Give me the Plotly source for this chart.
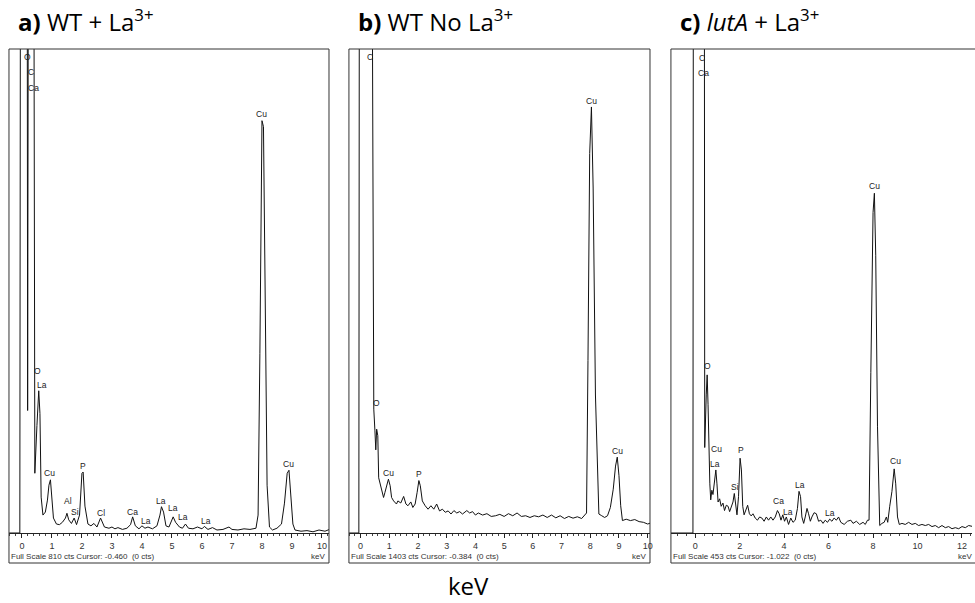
import plotly.graph_objs as go

# 能谱数据 (keV, cts) 从图上读取
a_kev = [-0.43, -0.1, -0.07, -0.04, 0.1, 0.16, 0.19, 0.22, 0.3, 0.38, 0.43, 0.5, 0.56, 0.6, 0.64, 0.7,
         0.78, 0.85, 0.9, 0.95, 1.0, 1.05, 1.15, 1.25, 1.35, 1.45, 1.5, 1.56, 1.65, 1.74, 1.82, 1.92,
         2.0, 2.04, 2.1, 2.2, 2.3, 2.4, 2.5, 2.62, 2.75, 2.9, 3.0, 3.1, 3.2, 3.35, 3.5, 3.62, 3.69,
         3.78, 3.9, 4.0, 4.1, 4.2, 4.35, 4.5, 4.6, 4.65, 4.72, 4.8, 4.9, 5.0, 5.04, 5.12, 5.25, 5.35,
         5.45, 5.55, 5.7, 5.85, 6.0, 6.08, 6.2, 6.35, 6.5, 6.7, 6.9, 7.0, 7.2, 7.4, 7.6, 7.8, 7.87,
         7.93, 8.0, 8.05, 8.1, 8.17, 8.25, 8.35, 8.5, 8.65, 8.75, 8.84, 8.9, 8.96, 9.03, 9.1, 9.3,
         9.5, 9.7, 9.9, 10.1, 10.25]
a_cts = [0, 0, 0, 1500, 3000, 2000, 205, 1500, 4000, 1500, 100, 180, 238, 200, 60, 30,
         35, 55, 80, 89, 60, 25, 15, 14, 18, 25, 33, 22, 16, 25, 14, 30,
         100, 102, 45, 15, 12, 16, 10, 25, 10, 8, 10, 7, 9, 6, 8, 14, 27,
         12, 7, 12, 8, 10, 7, 12, 30, 44, 35, 12, 10, 22, 27, 18, 10, 8,
         15, 8, 7, 10, 7, 11, 6, 9, 5, 6, 10, 6, 5, 7, 6, 8, 30,
         300, 690, 680, 400, 80, 10, 5, 8, 15, 50, 100, 105, 60, 15, 5, 3,
         4, 2, 5, 3, 6]

b_kev = [-0.41, -0.1, -0.06, -0.03, 0.2, 0.39, 0.46, 0.5, 0.53, 0.56, 0.6, 0.63, 0.69, 0.75, 0.8,
         0.85, 0.9, 0.97, 1.03, 1.08, 1.15, 1.25, 1.3, 1.4, 1.5, 1.58, 1.65, 1.75, 1.82, 1.9, 1.97,
         2.03, 2.08, 2.15, 2.25, 2.35, 2.45, 2.55, 2.65, 2.75, 2.85, 2.95, 3.05, 3.15, 3.25, 3.35,
         3.45, 3.55, 3.7, 3.8, 3.9, 4.0, 4.1, 4.25, 4.4, 4.55, 4.7, 4.85, 5.0, 5.15, 5.3, 5.45, 5.6,
         5.75, 5.9, 6.05, 6.2, 6.35, 6.5, 6.65, 6.8, 6.95, 7.1, 7.25, 7.4, 7.55, 7.7, 7.8, 7.87,
         7.92, 7.98, 8.04, 8.1, 8.18, 8.3, 8.4, 8.5, 8.6, 8.7, 8.8, 8.88, 8.94, 9.0, 9.06, 9.12,
         9.25, 9.4, 9.55, 9.7, 9.85, 10.0, 10.1]
b_cts = [0, 0, 0, 3000, 5000, 2000, 359, 296, 241, 301, 282, 160, 137, 113, 103,
         118, 137, 156, 137, 103, 93, 84, 93, 87, 106, 84, 79, 90, 74, 84, 118,
         152, 137, 93, 79, 69, 79, 69, 84, 64, 69, 60, 64, 55, 65, 58,
         62, 55, 65, 58, 62, 52, 58, 52, 56, 48, 50, 54, 48, 56, 50, 58, 48,
         50, 45, 50, 47, 52, 45, 52, 44, 50, 42, 48, 43, 47, 42, 50, 58,
         500, 1100, 1235, 1000, 400, 55, 50, 45, 50, 74, 127, 194, 220, 166, 79, 36,
         40, 36, 39, 33, 31, 26, 29]

c_kev = [-1.09, -0.1, -0.05, 0.2, 0.38, 0.43, 0.5, 0.54, 0.58, 0.62, 0.66, 0.7, 0.75, 0.8, 0.86,
         0.93, 0.98, 1.03, 1.1, 1.17, 1.25, 1.32, 1.4, 1.48, 1.55, 1.62, 1.7, 1.76, 1.82, 1.88, 1.95,
         2.02, 2.08, 2.14, 2.2, 2.28, 2.36, 2.44, 2.52, 2.6, 2.7, 2.8, 2.9, 3.0, 3.1, 3.2, 3.3, 3.4,
         3.5, 3.6, 3.7, 3.78, 3.86, 3.94, 4.02, 4.1, 4.2, 4.3, 4.4, 4.5, 4.6, 4.67, 4.74, 4.8, 4.88,
         4.95, 5.03, 5.1, 5.18, 5.25, 5.35, 5.45, 5.55, 5.65, 5.75, 5.85, 5.95, 6.05, 6.15, 6.25,
         6.35, 6.45, 6.55, 6.7, 6.85, 7.0, 7.1, 7.25, 7.4, 7.55, 7.65, 7.75, 7.82, 7.9, 8.0, 8.06,
         8.12, 8.2, 8.3, 8.4, 8.5, 8.6, 8.66, 8.75, 8.85, 8.95, 9.02, 9.1, 9.18, 9.3, 9.45, 9.6,
         9.75, 9.9, 10.05, 10.2, 10.35, 10.5, 10.65, 10.8, 10.95, 11.1, 11.25, 11.4, 11.55, 11.7,
         11.85, 12.0, 12.15, 12.3, 12.5]
c_cts = [0, 0, 1500, 3000, 1500, 80, 130, 148, 120, 60, 46, 31, 40, 36, 46,
         59, 46, 29, 32, 25, 28, 21, 26, 25, 20, 25, 29, 37, 26, 17, 34,
         70, 59, 25, 17, 21, 26, 18, 16, 18, 14, 12, 15, 14, 11, 15, 12, 15,
         12, 15, 21, 18, 12, 17, 11, 15, 8, 14, 10, 12, 23, 39, 34, 15, 9,
         15, 23, 18, 11, 15, 19, 18, 11, 12, 9, 12, 10, 13, 11, 14,
         12, 15, 10, 8, 11, 12, 9, 11, 8, 10, 8, 12, 12, 150, 300, 318,
         260, 100, 7, 9, 10, 15, 10, 25, 39, 60, 46, 15, 8, 9, 8, 10,
         8, 9, 7, 8, 7, 8, 6, 7, 5, 7, 5, 6, 4, 5,
         4, 6, 5, 7, 6]

# 峰标注
a_lab = ['O', 'C', 'Ca', 'O', 'La', 'Cu', 'Al', 'Si', 'P', 'Cl', 'Ca', 'La', 'La', 'La', 'La', 'La', 'Cu', 'Cu']
a_lab_kev = [0.2, 0.3, 0.37, 0.53, 0.66, 0.93, 1.52, 1.77, 2.03, 2.62, 3.69, 4.12, 4.65, 5.05, 5.38, 6.14, 8.0, 8.87]
a_lab_cts = [797, 772, 745, 271, 248, 100, 54, 35, 112, 33, 35, 20, 54, 42, 27, 20, 701, 116]

b_lab = ['C', 'O', 'Cu', 'P', 'Cu', 'Cu']
b_lab_kev = [0.32, 0.56, 0.96, 2.05, 8.04, 8.94]
b_lab_cts = [1380, 376, 174, 171, 1253, 238]

c_lab = ['C', 'Ca', 'O', 'Cu', 'La', 'P', 'Si', 'Ca', 'La', 'La', 'La', 'Cu', 'Cu']
c_lab_kev = [0.3, 0.39, 0.54, 0.94, 0.87, 2.06, 1.77, 3.75, 4.16, 4.7, 6.07, 8.06, 9.01]
c_lab_cts = [445, 431, 156, 79, 65, 78, 43, 30, 20, 45, 19, 325, 67]

titles = ['<b>a)</b> WT + La<sup>3+</sup>', '<b>b)</b> WT No La<sup>3+</sup>',
          '<b>c)</b> <i>lutA</i> + La<sup>3+</sup>']
footers = ['Full Scale 810 cts Cursor: -0.460  (0 cts)', 'Full Scale 1403 cts Cursor: -0.384  (0 cts)',
           'Full Scale 453 cts Cursor: -1.022  (0 cts)']
full_scale = [810, 1403, 453]

panels = [(a_kev, a_cts, a_lab, a_lab_kev, a_lab_cts),
          (b_kev, b_cts, b_lab, b_lab_kev, b_lab_cts),
          (c_kev, c_cts, c_lab, c_lab_kev, c_lab_cts)]
# 各子图在页面中的位置 (像素换算)
x_dom = [[9 / 975, 330 / 975], [350 / 975, 652 / 975], [673 / 975, 1.0]]
x_rng = [[-0.432, 10.233], [-0.406, 10.08], [-1.09, 12.45]]
x_dtick = [1, 1, 2]
x_minor = [0.2, 0.2, 0.4]
y_dom = [70 / 603, 554 / 603]

fig = go.Figure()
annotations = []
shapes = []
layout = {}
for i, (kev, cts, lab, lab_kev, lab_cts) in enumerate(panels):
    n = '' if i == 0 else str(i + 1)
    fig.add_trace(go.Scatter(x=kev, y=cts, mode='lines', xaxis='x' + n, yaxis='y' + n,
                             line=dict(color='#111', width=1), showlegend=False, hoverinfo='skip'))
    layout['xaxis' + n] = dict(domain=x_dom[i], range=x_rng[i], anchor='y' + n, showgrid=False,
                               zeroline=False, showline=True, linecolor='#222', linewidth=1,
                               ticks='outside', ticklen=4, tickcolor='#222', dtick=x_dtick[i], tick0=0,
                               minor=dict(ticks='outside', ticklen=2, dtick=x_minor[i], tick0=0, tickcolor='#444'),
                               tickfont=dict(family='Liberation Sans', size=9, color='#333'))
    layout['yaxis' + n] = dict(domain=y_dom, range=[0, full_scale[i]], anchor='x' + n, visible=False)
    shapes.append(dict(type='rect', xref='x' + n + ' domain', yref='y' + n + ' domain',
                       x0=0, x1=1.0 if i < 2 else 1.02, y0=-0.062, y1=1,
                       line=dict(color='#333', width=1)))
    for t, xx, yy in zip(lab, lab_kev, lab_cts):
        annotations.append(dict(text=t, x=xx, y=yy, xref='x' + n, yref='y' + n, showarrow=False,
                                xanchor='center', yanchor='middle',
                                font=dict(family='Liberation Sans', size=8.5, color='#222')))
    annotations.append(dict(text=footers[i], x=0, y=-0.048, xref='x' + n + ' domain', yref='y' + n + ' domain',
                            xanchor='left', yanchor='middle', showarrow=False,
                            font=dict(family='Liberation Sans', size=8, color='#333')))
    annotations.append(dict(text='keV', x=0.995 if i < 2 else 1.005, y=-0.048, xref='x' + n + ' domain',
                            yref='y' + n + ' domain', xanchor='right', yanchor='middle', showarrow=False,
                            font=dict(family='Liberation Sans', size=8, color='#333')))
    annotations.append(dict(text=titles[i], x=x_dom[i][0] + 7 / 975, y=1 - 21 / 603, xref='paper', yref='paper',
                            xanchor='left', yanchor='middle', showarrow=False,
                            font=dict(family='Open Sans', size=24, color='#000')))

annotations.append(dict(text='keV', x=470 / 975, y=1 - 585 / 603, xref='paper', yref='paper',
                        xanchor='center', yanchor='middle', showarrow=False,
                        font=dict(family='Open Sans', size=24, color='#000')))

fig.update_layout(width=975, height=603, margin=dict(l=0, r=0, t=0, b=0),
                  paper_bgcolor='white', plot_bgcolor='white',
                  annotations=annotations, shapes=shapes, **layout)
# 去掉页面默认边距
fig.write_html('out.html', config={'displayModeBar': False},
               post_script="document.body.style.margin='0';")
